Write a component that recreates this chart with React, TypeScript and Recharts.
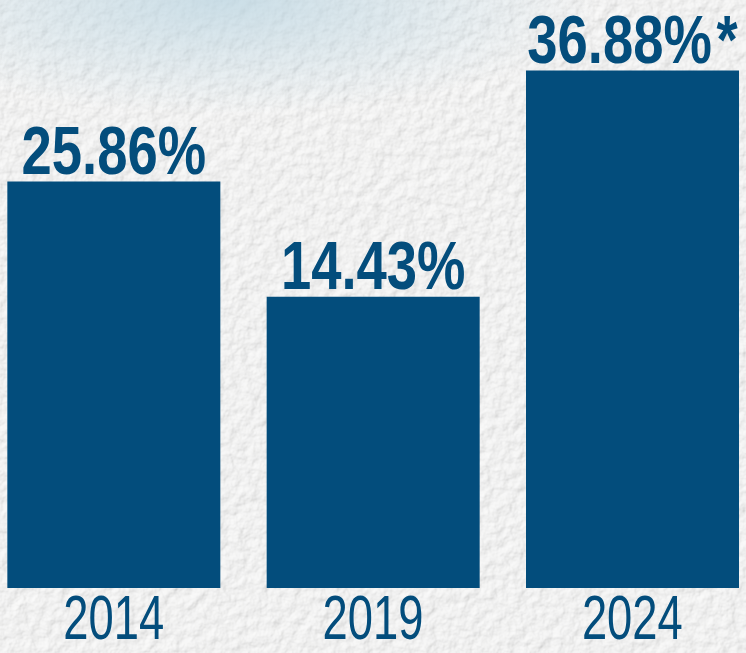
import { BarChart, Bar, XAxis, YAxis } from 'recharts'

// values
const years = ['2014', '2019', '2024']
const shares = [25.86, 14.43, 36.88]
const notes = ['', '', '*']

// the original bars are not drawn from zero, so the value axis starts below it
const Y_MIN = -14.5
const Y_MAX = 41.9

const BLUE = '#034d7c'
const FONT = '"Liberation Sans", Arial, sans-serif'

const data = years.map((year, i) => ({ year, share: shares[i], note: notes[i] }))

function YearTick({ x, y, payload }: any) {
  return (
    <text
      transform={`translate(${x},${y + 51}) scale(0.72,1)`}
      textAnchor="middle"
      fill={BLUE}
      fontFamily={FONT}
      fontSize={63}
    >
      {payload.value}
    </text>
  )
}

function ShareLabel(props: any) {
  const { x, y, width, value, index } = props
  const v = Array.isArray(value) ? value[1] : value ?? shares[index]
  const note = notes[index]
  return (
    <text
      transform={`translate(${x + width / 2},${y - 8}) scale(0.8,1)`}
      textAnchor="middle"
      fill={BLUE}
      fontFamily={FONT}
      fontWeight={700}
      fontSize={68}
    >
      {v.toFixed(2)}%
      {note && <tspan dx={6}>{note}</tspan>}
    </text>
  )
}

function Paper() {
  return (
    <svg width={746} height={653} style={{ position: 'absolute', left: 0, top: 0 }}>
      <defs>
        <filter id="paper" x="0" y="0" width="100%" height="100%">
          <feTurbulence type="fractalNoise" baseFrequency="0.09" numOctaves={4} seed={3} result="noise" />
          <feDiffuseLighting in="noise" lightingColor="#ffffff" surfaceScale={1.8} result="lit">
            <feDistantLight azimuth={45} elevation={60} />
          </feDiffuseLighting>
        </filter>
        <radialGradient id="wash" cx="0.3" cy="0" r="0.5" gradientTransform="scale(1,0.35)">
          <stop offset="0%" stopColor="#bcd6e2" stopOpacity={0.75} />
          <stop offset="100%" stopColor="#bcd6e2" stopOpacity={0} />
        </radialGradient>
      </defs>
      <rect width={746} height={653} fill="#f3f3f2" />
      <rect width={746} height={653} filter="url(#paper)" opacity={0.6} />
      <rect width={746} height={653} fill="url(#wash)" />
    </svg>
  )
}

export default function App() {
  return (
    <div style={{ position: 'absolute', left: 0, top: 0, width: 746, height: 653, overflow: 'hidden' }}>
      <Paper />
      <div style={{ position: 'absolute', left: -16, top: 0 }}>
        <BarChart
          width={778}
          height={653}
          data={data}
          margin={{ top: 20, right: 0, left: 0, bottom: 0 }}
          barCategoryGap="9%"
        >
          <XAxis
            dataKey="year"
            axisLine={false}
            tickLine={false}
            tickSize={0}
            tickMargin={0}
            height={65}
            interval={0}
            tick={<YearTick />}
          />
          <YAxis hide type="number" domain={[Y_MIN, Y_MAX]} allowDataOverflow />
          <Bar
            dataKey={(d: any) => [Y_MIN, d.share]}
            fill={BLUE}
            isAnimationActive={false}
            label={<ShareLabel />}
          />
        </BarChart>
      </div>
    </div>
  )
}
